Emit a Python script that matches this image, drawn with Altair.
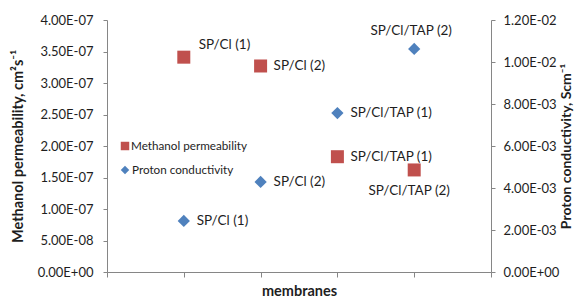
import altair as alt
import pandas as pd

# ---- data ----
membranes = ["SP/Cl (1)", "SP/Cl (2)", "SP/Cl/TAP (1)", "SP/Cl/TAP (2)"]
methanol_perm = [3.41e-7, 3.27e-7, 1.83e-7, 1.62e-7]
proton_cond = [2.43e-3, 4.29e-3, 7.57e-3, 1.062e-2]
legend_labels = ["Methanol permeability", "Proton conductivity"]
x_ticks = [0, 1, 2, 3, 4, 5]
left_ticks = [0, 5e-8, 1e-7, 1.5e-7, 2e-7, 2.5e-7, 3e-7, 3.5e-7, 4e-7]
right_ticks = [0, 0.002, 0.004, 0.006, 0.008, 0.010, 0.012]

df = pd.DataFrame({
    "membrane": membranes,
    "pos": list(range(1, len(membranes) + 1)),
    "perm": methanol_perm,
    "cond": proton_cond,
})

RED = "#C0504D"
BLUE = "#4F81BD"
AXIS = "#868686"
TXT = "#1e1e1e"
FONT = "Lato"

S = "format(datum.value,'.2e')"
EXP = f"toNumber(split({S},'e')[1])"
label_expr = (f"split({S},'e')[0] + 'E' + ({EXP} < 0 ? '-' : '+') + "
              f"(abs({EXP}) < 10 ? '0' : '') + abs({EXP})")

x_enc = alt.X(
    "pos:Q",
    scale=alt.Scale(domain=[0, 5], nice=False, zero=False),
    axis=alt.Axis(values=x_ticks, labels=False, tickSize=5, grid=False,
                  title="membranes", titleFont=FONT, titleFontSize=14.5,
                  titleFontWeight="bold", titleColor=TXT, titlePadding=7,
                  domainColor=AXIS, tickColor=AXIS),
)

y_left = alt.Y(
    "perm:Q",
    scale=alt.Scale(domain=[0, 4e-7], nice=False),
    axis=alt.Axis(orient="left", values=left_ticks, labelExpr=label_expr,
                  tickSize=4, labelPadding=10, grid=False,
                  labelFont=FONT, labelFontSize=13, labelColor=TXT,
                  title="Methanol permeability, cm²s⁻¹", titleFont=FONT,
                  titleFontSize=14.5, titleFontWeight="bold", titleColor=TXT,
                  titlePadding=12, domainColor=AXIS, tickColor=AXIS),
)

y_right = alt.Y(
    "cond:Q",
    scale=alt.Scale(domain=[0, 0.012], nice=False),
    axis=alt.Axis(orient="right", values=right_ticks, labelExpr=label_expr,
                  tickSize=4, labelPadding=8, grid=False,
                  labelFont=FONT, labelFontSize=13, labelColor=TXT,
                  title="Proton conductivity, Scm⁻¹", titleFont=FONT,
                  titleFontSize=14, titleFontWeight="bold", titleColor=TXT,
                  titleAngle=270, titlePadding=15,
                  domainColor=AXIS, tickColor=AXIS),
)

base = alt.Chart(df)

squares = base.mark_point(shape="square", filled=True, opacity=1, size=169,
                          color=RED).encode(x=x_enc, y=y_left)


def lbl(names, align, dx, dy, y_enc):
    return base.transform_filter(
        alt.FieldOneOfPredicate(field="membrane", oneOf=names)
    ).mark_text(align=align, baseline="middle", dx=dx, dy=dy, font=FONT,
                fontSize=13.5, color=TXT).encode(x=x_enc, y=y_enc, text="membrane:N")


sq_lab = alt.layer(
    squares,
    lbl([membranes[0]], "left", 15, -12, y_left),
    lbl([membranes[1], membranes[2]], "left", 13, 0, y_left),
    lbl([membranes[3]], "center", -5, 21, y_left),
)

diamonds = base.mark_point(shape="diamond", filled=True, opacity=1, size=150,
                           color=BLUE).encode(x=x_enc, y=y_right)

di_lab = alt.layer(
    diamonds,
    lbl([membranes[0], membranes[1], membranes[2]], "left", 13, 0, y_right),
    lbl([membranes[3]], "center", -3, -18, y_right),
)

leg1 = pd.DataFrame({"label": [legend_labels[0]]})
leg2 = pd.DataFrame({"label": [legend_labels[1]]})
legend = alt.layer(
    alt.Chart(leg1).mark_point(shape="square", filled=True, opacity=1, size=72,
                               color=RED).encode(x=alt.value(18), y=alt.value(126)),
    alt.Chart(leg1).mark_text(align="left", baseline="middle", font=FONT,
                              fontSize=11.7, color=TXT).encode(
        x=alt.value(24), y=alt.value(126), text="label:N"),
    alt.Chart(leg2).mark_point(shape="diamond", filled=True, opacity=1, size=72,
                               color=BLUE).encode(x=alt.value(18), y=alt.value(150)),
    alt.Chart(leg2).mark_text(align="left", baseline="middle", font=FONT,
                              fontSize=11.7, color=TXT).encode(
        x=alt.value(25), y=alt.value(150), text="label:N"),
)

chart = alt.layer(sq_lab, di_lab, legend).resolve_scale(
    y="independent"
).properties(
    width=384, height=252,
    autosize=alt.AutoSizeParams(type="none"),
    padding={"left": 99, "top": 12, "right": 83, "bottom": 27},
    background="white",
).configure_view(strokeWidth=0)

chart.save("out.html", embed_options={"renderer": "svg", "actions": False})
